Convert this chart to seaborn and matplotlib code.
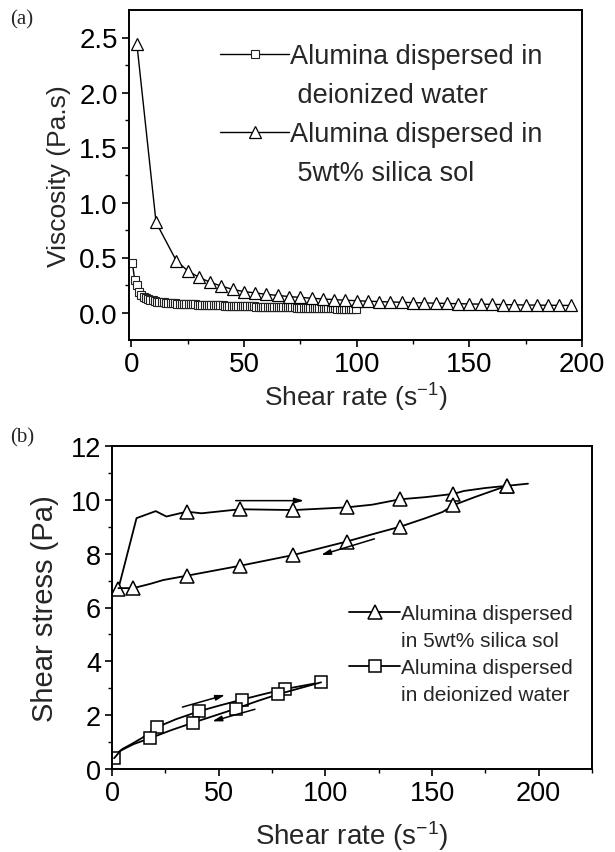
import matplotlib
matplotlib.use("Agg")
import matplotlib.pyplot as plt
from matplotlib.lines import Line2D
import seaborn as sns
import pandas as pd

# ---------------- data: panel (a) viscosity ----------------
rate_silica_a = [2.5, 11, 20, 25, 30, 35, 40, 45, 50, 55, 60, 65, 70, 75, 80, 85, 90, 95,
                 100, 105, 110, 115, 120, 125, 130, 135, 140, 145, 150, 155, 160, 165,
                 170, 175, 180, 185, 190, 195]
visc_silica_a = [2.44, 0.82, 0.47, 0.38, 0.32, 0.275, 0.24, 0.21, 0.19, 0.178, 0.165, 0.155,
                 0.145, 0.137, 0.13, 0.123, 0.117, 0.112, 0.107, 0.103, 0.099, 0.096, 0.093,
                 0.090, 0.087, 0.085, 0.082, 0.080, 0.078, 0.076, 0.074, 0.072, 0.070, 0.068,
                 0.067, 0.066, 0.065, 0.064]

rate_water_a = [0.5, 1.5, 2.5, 3.5, 4.5, 5.5, 6.5, 7.5, 8.5, 9.5,
                10.5, 11.5, 12.5, 13.5, 14.5, 15.5, 16.5, 17.5, 18.5, 19.5,
                20.5, 21.5, 22.5, 23.5, 24.5, 25.5, 26.5, 27.5, 28.5, 29.5,
                30.5, 31.5, 32.5, 33.5, 34.5, 35.5, 36.5, 37.5, 38.5, 39.5,
                40.5, 41.5, 42.5, 43.5, 44.5, 45.5, 46.5, 47.5, 48.5, 49.5,
                50.5, 51.5, 52.5, 53.5, 54.5, 55.5, 56.5, 57.5, 58.5, 59.5,
                60.5, 61.5, 62.5, 63.5, 64.5, 65.5, 66.5, 67.5, 68.5, 69.5,
                70.5, 71.5, 72.5, 73.5, 74.5, 75.5, 76.5, 77.5, 78.5, 79.5,
                80.5, 81.5, 82.5, 83.5, 84.5, 85.5, 86.5, 87.5, 88.5, 89.5,
                90.5, 91.5, 92.5, 93.5, 94.5, 95.5, 96.5, 97.5, 98.5, 99.5]
visc_water_a = [0.45, 0.30, 0.25, 0.19, 0.16, 0.14, 0.13, 0.12, 0.115, 0.11,
                0.105, 0.100, 0.097, 0.094, 0.092, 0.090, 0.088, 0.086, 0.084, 0.082,
                0.081, 0.080, 0.079, 0.078, 0.077, 0.076, 0.075, 0.074, 0.073, 0.072,
                0.071, 0.070, 0.069, 0.069, 0.068, 0.067, 0.066, 0.066, 0.065, 0.064,
                0.064, 0.063, 0.062, 0.062, 0.061, 0.060, 0.060, 0.059, 0.058, 0.058,
                0.057, 0.057, 0.056, 0.055, 0.055, 0.054, 0.054, 0.053, 0.053, 0.052,
                0.052, 0.051, 0.051, 0.050, 0.050, 0.049, 0.049, 0.048, 0.048, 0.047,
                0.047, 0.046, 0.046, 0.045, 0.045, 0.044, 0.044, 0.043, 0.043, 0.042,
                0.042, 0.041, 0.041, 0.040, 0.040, 0.039, 0.039, 0.038, 0.038, 0.037,
                0.037, 0.036, 0.036, 0.035, 0.035, 0.034, 0.034, 0.033, 0.033, 0.032]

# ---------------- data: panel (b) shear stress ----------------
silica_up_rate = [3, 11.5, 20.5, 25.5, 35, 42, 60, 85, 110, 122, 135, 147, 160, 165, 175, 185, 195]
silica_up_stress = [6.7, 9.32, 9.58, 9.38, 9.56, 9.5, 9.65, 9.62, 9.72, 9.82, 10.02, 10.1, 10.22,
                    10.33, 10.44, 10.52, 10.6]
silica_up_marked = [0, 4, 6, 7, 8, 10, 12, 15]

silica_down_rate = [185, 170, 160, 155, 147, 135, 122, 110, 85, 60, 35, 24, 18, 10, 3]
silica_down_stress = [10.52, 10.1, 9.8, 9.55, 9.32, 9.0, 8.72, 8.45, 7.95, 7.55, 7.18, 7.02,
                      6.88, 6.72, 6.72]
silica_down_marked = [0, 2, 5, 7, 8, 9, 10, 13]

water_up_rate = [1, 3, 5, 9, 14, 21, 30, 41, 50, 61, 71, 81, 98]
water_up_stress = [0.4, 0.62, 0.75, 0.92, 1.15, 1.55, 1.85, 2.15, 2.35, 2.58, 2.78, 2.97, 3.22]
water_up_marked = [0, 5, 7, 9, 11, 12]

water_down_rate = [98, 88, 78, 68, 58, 48, 38, 28, 18, 10, 4, 1]
water_down_stress = [3.22, 3.0, 2.78, 2.52, 2.24, 1.98, 1.72, 1.45, 1.15, 0.92, 0.68, 0.4]
water_down_marked = [2, 4, 6, 8]

# direction arrows (start rate, start stress, end rate, end stress)
arrows_b = [(58, 9.97, 90, 9.97), (123, 8.55, 98, 7.95), (33, 2.3, 53, 2.75), (67, 2.22, 47, 1.77)]

legend_a_lines = ["Alumina dispersed in", " deionized water", "Alumina dispersed in", " 5wt% silica sol"]
legend_b_lines = ["Alumina dispersed", "in 5wt% silica sol", "Alumina dispersed", "in deionized water"]

# ---------------- style ----------------
sns.set_style("ticks")
plt.rcParams["font.family"] = ["Liberation Sans", "DejaVu Sans"]
plt.rcParams["mathtext.fontset"] = "custom"
plt.rcParams["mathtext.rm"] = "Liberation Sans"
plt.rcParams["mathtext.it"] = "Liberation Sans"
plt.rcParams["axes.edgecolor"] = "black"
plt.rcParams["axes.linewidth"] = 1.4
plt.rcParams["xtick.color"] = "black"
plt.rcParams["ytick.color"] = "black"

fig = plt.figure(figsize=(6.15, 8.53), dpi=100)
W, H = 615, 853

def px_axes(l, t, r, b):
    return fig.add_axes([l / W, 1 - b / H, (r - l) / W, (b - t) / H])

ax1 = px_axes(129, 11, 582, 341)
ax2 = px_axes(112, 447, 592, 770)

lw = 1.0
df_sa = pd.DataFrame({"rate": rate_silica_a, "visc": visc_silica_a})
df_wa = pd.DataFrame({"rate": rate_water_a, "visc": visc_water_a})

sq_a = dict(marker="s", markersize=6, markerfacecolor="white",
            markeredgecolor="#222222", markeredgewidth=0.8)
tri_a = dict(marker="^", markersize=8, markerfacecolor="white",
             markeredgecolor="black", markeredgewidth=0.9)

sns.lineplot(data=df_wa, x="rate", y="visc", ax=ax1, sort=False, estimator=None,
             color="black", lw=lw, legend=False, **sq_a)
sns.lineplot(data=df_sa, x="rate", y="visc", ax=ax1, sort=False, estimator=None,
             color="black", lw=lw, legend=False, **tri_a)

ax1.set_xlim(-1, 200)
ax1.set_ylim(-0.25, 2.75)
ax1.set_xticks([0, 50, 100, 150, 200])
ax1.set_xticks([25, 75, 125, 175], minor=True)
ax1.set_yticks([0.0, 0.5, 1.0, 1.5, 2.0, 2.5])
ax1.set_yticks([0.25, 0.75, 1.25, 1.75, 2.25], minor=True)
ax1.set_yticklabels(["0.0", "0.5", "1.0", "1.5", "2.0", "2.5"])
ax1.set_xlabel(r"Shear rate (s$^{\mathrm{-1}}$)", fontsize=19, labelpad=3)
ax1.set_ylabel("Viscosity (Pa.s)", fontsize=19, labelpad=6)

blank = Line2D([], [], linestyle="none", marker="none")
h_wa = Line2D([], [], color="black", lw=lw, **sq_a)
h_sa = Line2D([], [], color="black", lw=lw, **tri_a)
fig.legend([h_wa, blank, h_sa, blank], legend_a_lines, loc="upper left",
           bbox_to_anchor=(220 / W, 1 - 44 / H), bbox_transform=fig.transFigure,
           frameon=False, fontsize=19.5, handlelength=2.55, handletextpad=0.05,
           labelspacing=0.48, borderpad=0, borderaxespad=0)

# panel (b)
mk_b = dict(markerfacecolor="white", markeredgecolor="black", markeredgewidth=1.1)

def draw_b(rate, stress, marked, mk, ms):
    d = pd.DataFrame({"rate": rate, "stress": stress})
    sns.lineplot(data=d, x="rate", y="stress", ax=ax2, sort=False, estimator=None,
                 color="black", lw=1.3, marker=mk, markevery=marked, markersize=ms,
                 legend=False, **mk_b)

draw_b(silica_up_rate, silica_up_stress, silica_up_marked, "^", 10)
draw_b(silica_down_rate, silica_down_stress, silica_down_marked, "^", 10)
draw_b(water_up_rate, water_up_stress, water_up_marked, "s", 9)
draw_b(water_down_rate, water_down_stress, water_down_marked, "s", 9)

for x0, y0, x1, y1 in arrows_b:
    ax2.annotate("", xy=(x1, y1), xytext=(x0, y0),
                 arrowprops=dict(arrowstyle="-|>,head_length=0.55,head_width=0.16",
                                 color="black", lw=1.1, shrinkA=0, shrinkB=0))

ax2.set_xlim(0, 225)
ax2.set_ylim(0, 12)
ax2.set_xticks([0, 50, 100, 150, 200])
ax2.set_xticks([25, 75, 125, 175, 225], minor=True)
ax2.set_yticks([0, 2, 4, 6, 8, 10, 12])
ax2.set_yticks([1, 3, 5, 7, 9, 11], minor=True)
ax2.set_xlabel(r"Shear rate (s$^{\mathrm{-1}}$)", fontsize=20, labelpad=9)
ax2.set_ylabel("Shear stress (Pa)", fontsize=21, labelpad=8)

h_sb = Line2D([], [], color="black", lw=1.3, marker="^", markersize=10, **mk_b)
h_wb = Line2D([], [], color="black", lw=1.3, marker="s", markersize=9, **mk_b)
fig.legend([h_sb, blank, h_wb, blank], legend_b_lines, loc="upper left",
           bbox_to_anchor=(349 / W, 1 - 605 / H), bbox_transform=fig.transFigure,
           frameon=False, fontsize=15, handlelength=2.45, handletextpad=0.05,
           labelspacing=0.38, borderpad=0, borderaxespad=0)

for ax, fs in ((ax1, 20), (ax2, 19.5)):
    ax.tick_params(which="major", direction="out", length=5, width=1.2, labelsize=fs,
                   top=False, right=False, pad=3)
    ax.tick_params(which="minor", direction="out", length=3, width=1.0,
                   top=False, right=False)
    for s in ax.spines.values():
        s.set_visible(True)
        s.set_color("black")

fig.text(10 / W, 1 - 20 / H, "(a)", fontsize=15, family="Liberation Serif", va="center")
fig.text(10 / W, 1 - 438 / H, "(b)", fontsize=15, family="Liberation Serif", va="center")

fig.savefig("out.png", dpi=100, facecolor="white")
